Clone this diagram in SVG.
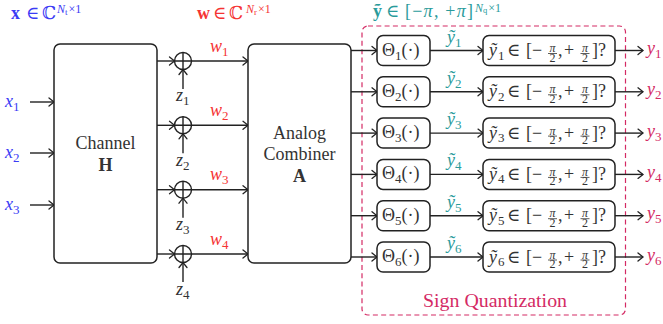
<svg xmlns="http://www.w3.org/2000/svg" width="663" height="324" viewBox="0 0 663 324" font-family="'Liberation Serif','DejaVu Serif',serif">
<style>
text{font-family:"Liberation Serif","DejaVu Serif",serif;fill:#333;font-size:18px}
.it{font-style:italic}
.b{font-weight:bold}
.sub{font-size:13px}
.sup{font-size:12px}
.fr{font-size:12px;text-anchor:middle}
.box{fill:#fff;stroke:#222;stroke-width:1.5}
.ln{fill:none;stroke:#222;stroke-width:1.4}
.fl{stroke:#333;stroke-width:0.8}
.blue{fill:#3b3bf5}
.red{fill:#f53333}
.teal{fill:#2a9b9b}
.mag{fill:#d42a64}
.mid{text-anchor:middle}
</style>
<defs>
<marker id="ar" markerUnits="userSpaceOnUse" orient="auto" overflow="visible" markerWidth="10" markerHeight="10">
<path d="M-5,-4 Q-1.5,-1.2 0,0 Q-1.5,1.2 -5,4" fill="none" stroke="#222" stroke-width="1.3" stroke-linecap="round"/>
</marker>
<g id="cond">
<rect class="box" x="483" y="-15" width="132" height="30" rx="6"/>
<text x="507" y="5.5">∈</text>
<text x="526" y="5.5">[−</text>
<text class="fr it" x="552.5" y="1.5">π</text><line class="fl" x1="548" y1="3" x2="557" y2="3"/><text class="fr" x="552.5" y="11">2</text>
<text x="558" y="5.5">,</text>
<text x="564" y="5.5">+</text>
<text class="fr it" x="585" y="1.5">π</text><line class="fl" x1="580.5" y1="3" x2="589.5" y2="3"/><text class="fr" x="585" y="11">2</text>
<text x="592" y="5.5">]?</text>
</g>
</defs>
<rect width="663" height="324" fill="#fff"/>

<!-- header labels -->
<g id="lbl-x">
<text class="blue b" x="11" y="19">x</text>
<text class="blue" x="26" y="19">∈</text>
<text class="blue" x="42" y="19">ℂ</text>
<text class="blue sup" x="57" y="13"><tspan class="it">N</tspan><tspan font-size="9" dy="2">t</tspan><tspan dx="1" dy="-2">×1</tspan></text>
</g>
<g id="lbl-w">
<text class="red b" x="197" y="19">w</text>
<text class="red" x="213" y="19">∈</text>
<text class="red" x="229" y="19">ℂ</text>
<text class="red sup" x="246" y="13"><tspan class="it">N</tspan><tspan font-size="9" dy="2">r</tspan><tspan dx="1" dy="-2">×1</tspan></text>
</g>
<g id="lbl-y">
<text class="teal b" x="373" y="17">ỹ</text>
<text class="teal" x="386" y="17">∈</text>
<text class="teal" x="405" y="17" textLength="68" lengthAdjust="spacing">[−<tspan class="it">π</tspan>, +<tspan class="it">π</tspan>]</text>
<text class="teal sup" x="475" y="11.5"><tspan class="it">N</tspan><tspan font-size="8.5" dy="1.5">q</tspan><tspan dx="1" dy="-1.5">×1</tspan></text>
</g>

<!-- dashed sign quantization region -->
<g id="signq">
<rect x="362" y="26" width="263.5" height="289" rx="6" fill="none" stroke="#d42a64" stroke-width="1.2" stroke-dasharray="5,3.3"/>
<text class="mag mid" x="495" y="307" textLength="144" lengthAdjust="spacingAndGlyphs">Sign Quantization</text>
</g>

<!-- connectors -->
<g id="connectors" class="ln">
<line x1="30" y1="102" x2="54" y2="102" marker-end="url(#ar)"/>
<line x1="30" y1="153" x2="54" y2="153" marker-end="url(#ar)"/>
<line x1="30" y1="205" x2="54" y2="205" marker-end="url(#ar)"/>

<line x1="157" y1="61" x2="174.5" y2="61" marker-end="url(#ar)"/>
<line x1="157" y1="125.3" x2="174.5" y2="125.3" marker-end="url(#ar)"/>
<line x1="157" y1="189.7" x2="174.5" y2="189.7" marker-end="url(#ar)"/>
<line x1="157" y1="254" x2="174.5" y2="254" marker-end="url(#ar)"/>

<line x1="191.5" y1="61" x2="248" y2="61" marker-end="url(#ar)"/>
<line x1="191.5" y1="125.3" x2="248" y2="125.3" marker-end="url(#ar)"/>
<line x1="191.5" y1="189.7" x2="248" y2="189.7" marker-end="url(#ar)"/>
<line x1="191.5" y1="254" x2="248" y2="254" marker-end="url(#ar)"/>

<line x1="183" y1="89" x2="183" y2="69.5" marker-end="url(#ar)"/>
<line x1="183" y1="153.3" x2="183" y2="133.8" marker-end="url(#ar)"/>
<line x1="183" y1="217.7" x2="183" y2="198.2" marker-end="url(#ar)"/>
<line x1="183" y1="282" x2="183" y2="262.5" marker-end="url(#ar)"/>

<line x1="351" y1="50.5" x2="377" y2="50.5" marker-end="url(#ar)"/>
<line x1="351" y1="91.8" x2="377" y2="91.8" marker-end="url(#ar)"/>
<line x1="351" y1="133.1" x2="377" y2="133.1" marker-end="url(#ar)"/>
<line x1="351" y1="174.4" x2="377" y2="174.4" marker-end="url(#ar)"/>
<line x1="351" y1="215.7" x2="377" y2="215.7" marker-end="url(#ar)"/>
<line x1="351" y1="257" x2="377" y2="257" marker-end="url(#ar)"/>

<line x1="430" y1="50.5" x2="483" y2="50.5" marker-end="url(#ar)"/>
<line x1="430" y1="91.8" x2="483" y2="91.8" marker-end="url(#ar)"/>
<line x1="430" y1="133.1" x2="483" y2="133.1" marker-end="url(#ar)"/>
<line x1="430" y1="174.4" x2="483" y2="174.4" marker-end="url(#ar)"/>
<line x1="430" y1="215.7" x2="483" y2="215.7" marker-end="url(#ar)"/>
<line x1="430" y1="257" x2="483" y2="257" marker-end="url(#ar)"/>

<line x1="615" y1="50.5" x2="643" y2="50.5" marker-end="url(#ar)"/>
<line x1="615" y1="91.8" x2="643" y2="91.8" marker-end="url(#ar)"/>
<line x1="615" y1="133.1" x2="643" y2="133.1" marker-end="url(#ar)"/>
<line x1="615" y1="174.4" x2="643" y2="174.4" marker-end="url(#ar)"/>
<line x1="615" y1="215.7" x2="643" y2="215.7" marker-end="url(#ar)"/>
<line x1="615" y1="257" x2="643" y2="257" marker-end="url(#ar)"/>
</g>

<!-- input labels -->
<g id="inputs">
<text class="blue it" x="5" y="107">x<tspan class="sub" dy="4" font-style="normal">1</tspan></text>
<text class="blue it" x="5" y="158">x<tspan class="sub" dy="4" font-style="normal">2</tspan></text>
<text class="blue it" x="5" y="210">x<tspan class="sub" dy="4" font-style="normal">3</tspan></text>
</g>

<g id="channel">
<rect class="box" x="54" y="44" width="103" height="219" rx="6"/>
<text class="mid" x="105.5" y="149">Channel</text>
<text class="mid b" x="105.5" y="171">H</text>
</g>

<g id="combiner">
<rect class="box" x="248" y="44" width="103" height="219" rx="6"/>
<text class="mid" x="299.5" y="139">Analog</text>
<text class="mid" x="299.5" y="160">Combiner</text>
<text class="mid b" x="299.5" y="181.5">A</text>
</g>

<g id="sum1" class="ln"><circle cx="183" cy="61" r="8.5"/><path d="M174.5,61H191.5M183,52.5V69.5"/></g>
<g id="sum2" class="ln"><circle cx="183" cy="125.3" r="8.5"/><path d="M174.5,125.3H191.5M183,116.8V133.8"/></g>
<g id="sum3" class="ln"><circle cx="183" cy="189.7" r="8.5"/><path d="M174.5,189.7H191.5M183,181.2V198.2"/></g>
<g id="sum4" class="ln"><circle cx="183" cy="254" r="8.5"/><path d="M174.5,254H191.5M183,245.5V262.5"/></g>

<g id="noise-labels">
<text class="it" x="176" y="101">z<tspan class="sub" dy="4" font-style="normal">1</tspan></text>
<text class="it" x="176" y="166">z<tspan class="sub" dy="4" font-style="normal">2</tspan></text>
<text class="it" x="176" y="230">z<tspan class="sub" dy="4" font-style="normal">3</tspan></text>
<text class="it" x="176" y="295">z<tspan class="sub" dy="4" font-style="normal">4</tspan></text>
</g>

<g id="w-labels">
<text class="red it" x="210" y="51.5">w<tspan class="sub" dy="4" font-style="normal">1</tspan></text>
<text class="red it" x="210" y="115.8">w<tspan class="sub" dy="4" font-style="normal">2</tspan></text>
<text class="red it" x="210" y="180.2">w<tspan class="sub" dy="4" font-style="normal">3</tspan></text>
<text class="red it" x="210" y="244.5">w<tspan class="sub" dy="4" font-style="normal">4</tspan></text>
</g>

<!-- theta nodes -->
<g id="theta1" transform="translate(0,50.5)"><rect class="box" x="377" y="-15" width="53" height="30" rx="6"/><text x="382" y="5">Θ<tspan class="sub" dy="4">1</tspan><tspan dy="-4">(·)</tspan></text></g>
<g id="theta2" transform="translate(0,91.8)"><rect class="box" x="377" y="-15" width="53" height="30" rx="6"/><text x="382" y="5">Θ<tspan class="sub" dy="4">2</tspan><tspan dy="-4">(·)</tspan></text></g>
<g id="theta3" transform="translate(0,133.1)"><rect class="box" x="377" y="-15" width="53" height="30" rx="6"/><text x="382" y="5">Θ<tspan class="sub" dy="4">3</tspan><tspan dy="-4">(·)</tspan></text></g>
<g id="theta4" transform="translate(0,174.4)"><rect class="box" x="377" y="-15" width="53" height="30" rx="6"/><text x="382" y="5">Θ<tspan class="sub" dy="4">4</tspan><tspan dy="-4">(·)</tspan></text></g>
<g id="theta5" transform="translate(0,215.7)"><rect class="box" x="377" y="-15" width="53" height="30" rx="6"/><text x="382" y="5">Θ<tspan class="sub" dy="4">5</tspan><tspan dy="-4">(·)</tspan></text></g>
<g id="theta6" transform="translate(0,257)"><rect class="box" x="377" y="-15" width="53" height="30" rx="6"/><text x="382" y="5">Θ<tspan class="sub" dy="4">6</tspan><tspan dy="-4">(·)</tspan></text></g>

<!-- y-tilde labels -->
<g id="ytilde-labels">
<text class="teal it" x="447" y="42.5">ỹ<tspan class="sub" dy="4" font-style="normal">1</tspan></text>
<text class="teal it" x="447" y="83.8">ỹ<tspan class="sub" dy="4" font-style="normal">2</tspan></text>
<text class="teal it" x="447" y="125.1">ỹ<tspan class="sub" dy="4" font-style="normal">3</tspan></text>
<text class="teal it" x="447" y="166.4">ỹ<tspan class="sub" dy="4" font-style="normal">4</tspan></text>
<text class="teal it" x="447" y="207.7">ỹ<tspan class="sub" dy="4" font-style="normal">5</tspan></text>
<text class="teal it" x="447" y="249">ỹ<tspan class="sub" dy="4" font-style="normal">6</tspan></text>
</g>

<!-- condition nodes -->
<g id="cond1" transform="translate(0,50.5)"><use href="#cond"/><text class="it" x="489" y="5.5">ỹ</text><text class="sub" x="498" y="9">1</text></g>
<g id="cond2" transform="translate(0,91.8)"><use href="#cond"/><text class="it" x="489" y="5.5">ỹ</text><text class="sub" x="498" y="9">2</text></g>
<g id="cond3" transform="translate(0,133.1)"><use href="#cond"/><text class="it" x="489" y="5.5">ỹ</text><text class="sub" x="498" y="9">3</text></g>
<g id="cond4" transform="translate(0,174.4)"><use href="#cond"/><text class="it" x="489" y="5.5">ỹ</text><text class="sub" x="498" y="9">4</text></g>
<g id="cond5" transform="translate(0,215.7)"><use href="#cond"/><text class="it" x="489" y="5.5">ỹ</text><text class="sub" x="498" y="9">5</text></g>
<g id="cond6" transform="translate(0,257)"><use href="#cond"/><text class="it" x="489" y="5.5">ỹ</text><text class="sub" x="498" y="9">6</text></g>

<!-- outputs -->
<g id="outputs">
<text class="mag it" x="647" y="54">y<tspan class="sub" dy="4" font-style="normal">1</tspan></text>
<text class="mag it" x="647" y="95.3">y<tspan class="sub" dy="4" font-style="normal">2</tspan></text>
<text class="mag it" x="647" y="136.6">y<tspan class="sub" dy="4" font-style="normal">3</tspan></text>
<text class="mag it" x="647" y="177.9">y<tspan class="sub" dy="4" font-style="normal">4</tspan></text>
<text class="mag it" x="647" y="219.2">y<tspan class="sub" dy="4" font-style="normal">5</tspan></text>
<text class="mag it" x="647" y="260.5">y<tspan class="sub" dy="4" font-style="normal">6</tspan></text>
</g>
</svg>
